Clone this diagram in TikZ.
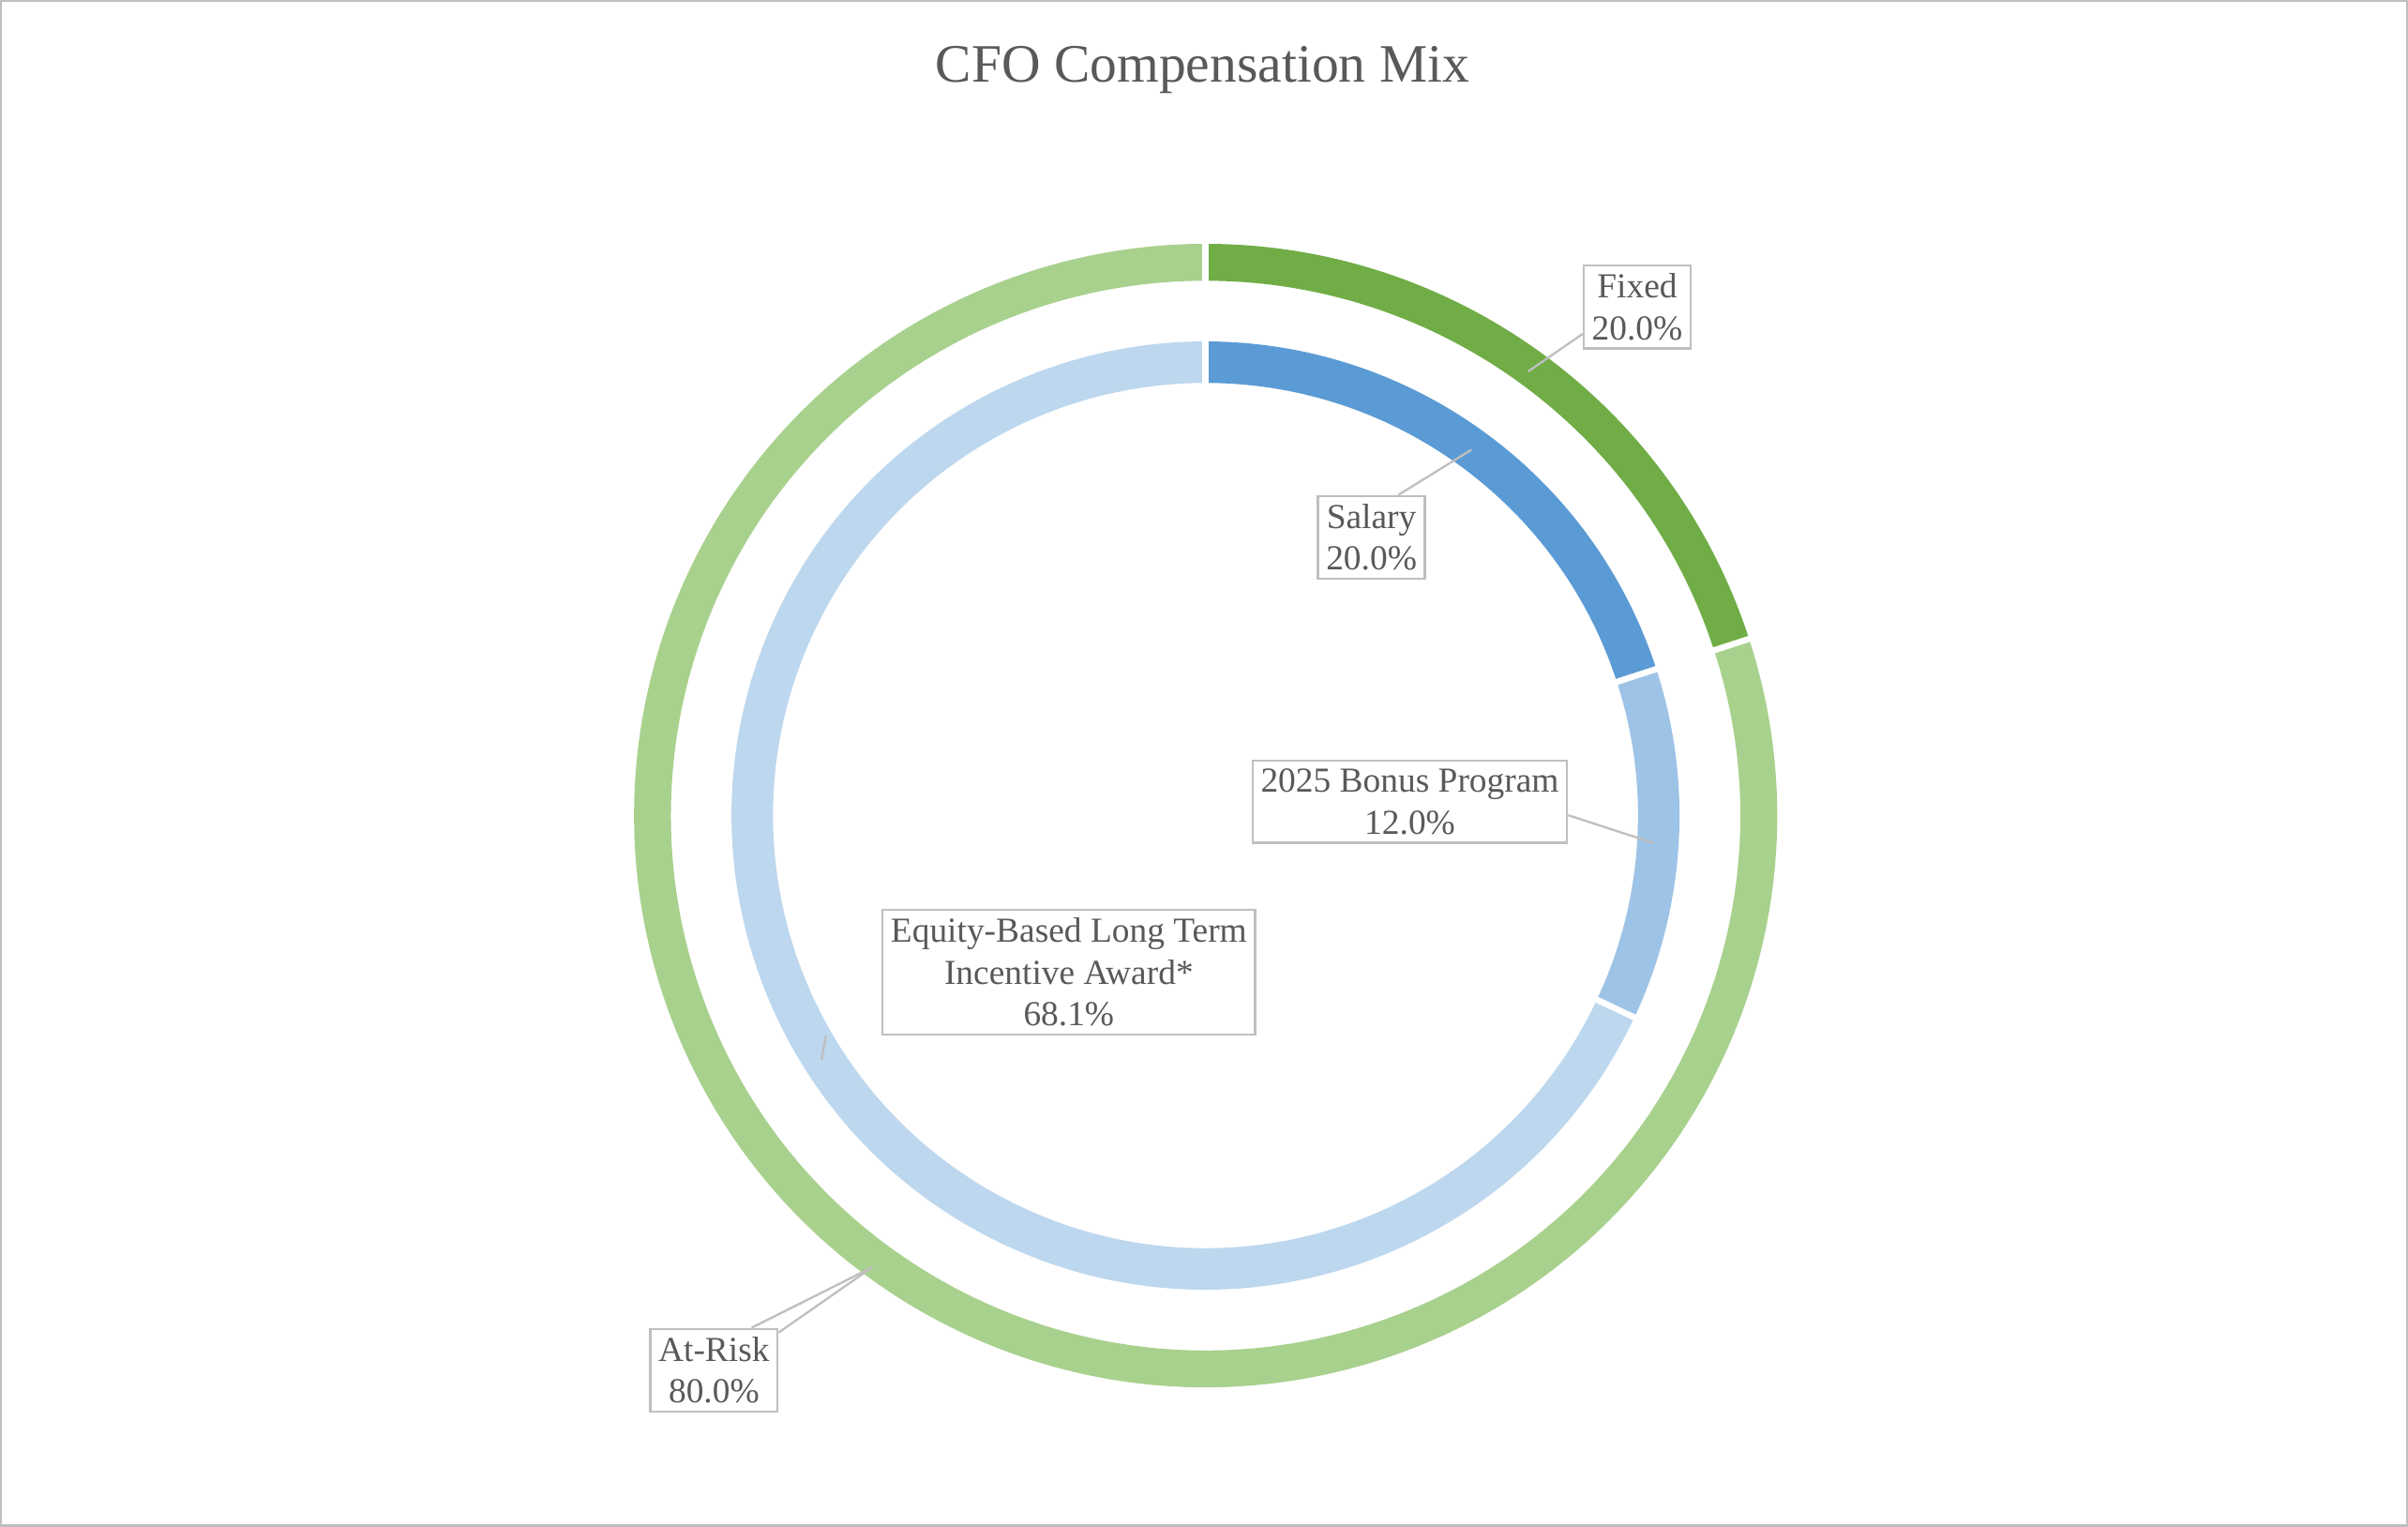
\documentclass[tikz,border=0pt]{standalone}
\usepackage{fontspec}
\setmainfont{Liberation Serif}
\usetikzlibrary{positioning}
\definecolor{fixedgreen}{HTML}{70AD47}
\definecolor{riskgreen}{HTML}{A9D18E}
\definecolor{salaryblue}{HTML}{5B9BD5}
\definecolor{bonusblue}{HTML}{9DC3E6}
\definecolor{equityblue}{HTML}{BDD7EE}
\definecolor{labelgray}{HTML}{595959}
\definecolor{framegray}{HTML}{BFBFBF}
\begin{document}
\begin{tikzpicture}[x=0.02cm, y=0.02cm,
        outer ring/.style={line width=0.48cm},
        inner ring/.style={line width=0.54cm},
        gap/.style={white, line width=0.08cm},
        callout/.style={draw=framegray, fill=white, line width=0.8pt, text=labelgray,
                        font=\fontsize{13}{15.5}\selectfont, align=center, inner sep=3pt},
        leader/.style={framegray, line width=0.8pt}]
    % frame and title
    \draw[framegray, line width=0.8pt, fill=white] (1, 1) rectangle (1567, 993);
    \node[text=labelgray, font=\fontsize{20}{24}\selectfont] (title) at (783, 948) {CFO Compensation Mix};
    \coordinate (C) at (785, 463);
    % outer ring
    \draw[outer ring, fixedgreen] (C) ++(90:360) arc[start angle=90, end angle=18, radius=360];
    \draw[outer ring, riskgreen] (C) ++(18:360) arc[start angle=18, end angle=-270, radius=360];
    % inner ring
    \draw[inner ring, salaryblue] (C) ++(90:295) arc[start angle=90, end angle=18, radius=295];
    \draw[inner ring, bonusblue] (C) ++(18:295) arc[start angle=18, end angle=-25.2, radius=295];
    \draw[inner ring, equityblue] (C) ++(-25.2:295) arc[start angle=-25.2, end angle=-270, radius=295];
    % separators
    \foreach \a in {90, 18} {
        \draw[gap] (C) ++(\a:275) -- ++(\a:100);
    }
    \draw[gap] (C) ++(-25.2:275) -- ++(-25.2:45);
    % labels
    \node[callout] (fixed) at (1066, 794) {Fixed\\20.0\%};
    \node[callout] (salary) at (893, 644) {Salary\\20.0\%};
    \node[callout] (bonus) at (918, 472) {2025 Bonus Program\\12.0\%};
    \node[callout] (equity) at (696, 361) {Equity-Based Long Term\\Incentive Award*\\68.1\%};
    \node[callout] (atrisk) at (465, 102) {At-Risk\\80.0\%};
    \coordinate (fixedpt) at (995, 752);
    \coordinate (salarypt) at (958, 701);
    \coordinate (bonuspt) at (1077, 445);
    \coordinate (equitypt) at (535, 304);
    \coordinate (atriskpt) at (568, 169);
    \draw[leader] (fixedpt) -- ([yshift=-10]fixed.west);
    \draw[leader] (salarypt) -- ([xshift=10]salary.north);
    \draw[leader] (bonuspt) -- ([yshift=-5]bonus.east);
    \draw[leader] (equitypt) -- ([xshift=-90]equity.south);
    \draw[leader] (atriskpt) -- ([xshift=-10]atrisk.north east);
    \draw[leader] (atriskpt) -- ([yshift=14]atrisk.east);
\end{tikzpicture}
\end{document}
